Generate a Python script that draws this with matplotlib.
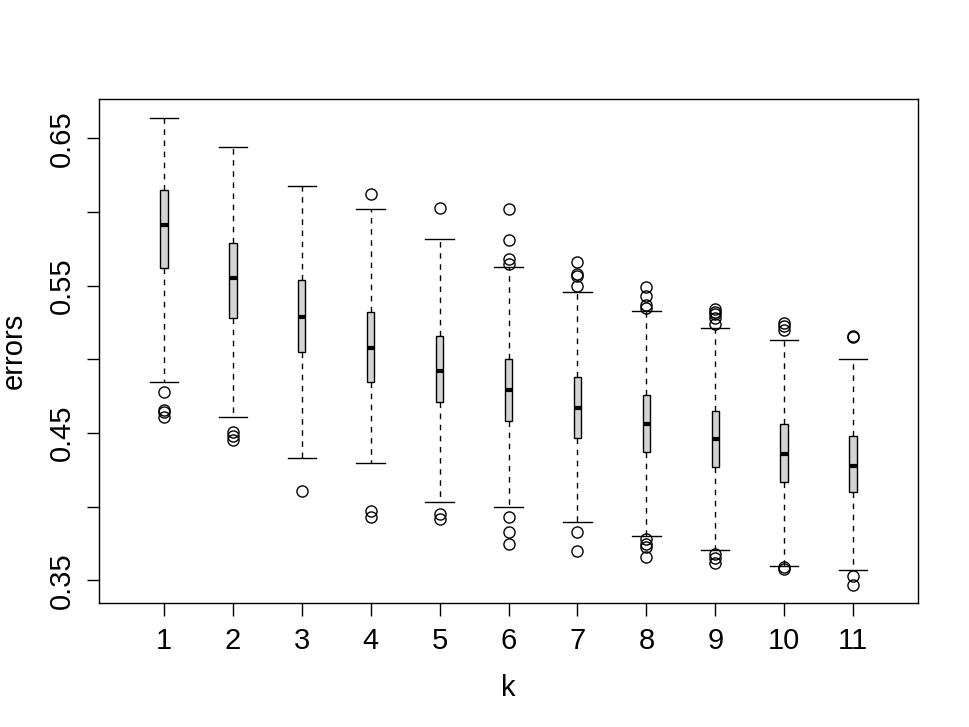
import numpy as np
import matplotlib
matplotlib.use("Agg")
import matplotlib.pyplot as plt

plt.rcParams['font.family'] = ['Liberation Sans', 'DejaVu Sans']

# values
k = [1, 2, 3, 4, 5, 6, 7, 8, 9, 10, 11]
whis_hi = [0.664, 0.644, 0.618, 0.602, 0.582, 0.563, 0.546, 0.533, 0.521, 0.513, 0.500]
q3 = [0.615, 0.579, 0.554, 0.532, 0.516, 0.500, 0.488, 0.476, 0.465, 0.456, 0.448]
medians = [0.591, 0.555, 0.529, 0.508, 0.492, 0.479, 0.467, 0.456, 0.446, 0.436, 0.428]
q1 = [0.562, 0.528, 0.505, 0.485, 0.471, 0.458, 0.447, 0.437, 0.427, 0.417, 0.410]
whis_lo = [0.485, 0.461, 0.433, 0.430, 0.403, 0.400, 0.390, 0.380, 0.371, 0.360, 0.357]
outliers = [
    [0.478, 0.466, 0.464, 0.461],
    [0.451, 0.448, 0.445],
    [0.411],
    [0.612, 0.397, 0.393],
    [0.6025, 0.395, 0.392],
    [0.602, 0.581, 0.568, 0.565, 0.393, 0.383, 0.375],
    [0.566, 0.558, 0.5565, 0.550, 0.383, 0.370],
    [0.549, 0.543, 0.537, 0.535, 0.378, 0.375, 0.373, 0.366],
    [0.534, 0.532, 0.531, 0.528, 0.524, 0.368, 0.365, 0.362],
    [0.525, 0.5225, 0.520, 0.359, 0.358],
    [0.516, 0.5155, 0.353, 0.347],
]

stats = []
for i in range(len(k)):
    stats.append({
        'med': medians[i], 'q1': q1[i], 'q3': q3[i],
        'whislo': whis_lo[i], 'whishi': whis_hi[i],
        'fliers': outliers[i],
    })

fig = plt.figure(figsize=(9.69, 7.27), dpi=100)
ax = fig.add_axes([99 / 969, 1 - 603 / 727, 819 / 969, 504 / 727])

ax.bxp(stats, positions=k, widths=0.11, patch_artist=True,
       boxprops=dict(facecolor='#d3d3d3', edgecolor='black', linewidth=1.0),
       medianprops=dict(color='black', linewidth=3, solid_capstyle='butt'),
       whiskerprops=dict(color='black', linewidth=1.0, linestyle=(0, (4, 4))),
       capprops=dict(color='black', linewidth=1.0),
       flierprops=dict(marker='o', markerfacecolor='none', markeredgecolor='black',
                       markersize=8, markeredgewidth=1.0),
       capwidths=0.41)

ax.set_xlim(0.06, 11.94)
ax.set_ylim(0.3347, 0.6767)

ax.set_xticks(k)
ax.set_xticklabels([str(v) for v in k])
yt = [0.35, 0.40, 0.45, 0.50, 0.55, 0.60, 0.65]
ax.set_yticks(yt)
ax.set_yticklabels(['0.35', '', '0.45', '', '0.55', '', '0.65'], rotation=90, va='center')

ax.tick_params(axis='both', labelsize=21, length=9, width=1.0, pad=8)
for s in ax.spines.values():
    s.set_linewidth(1.0)

ax.set_xlabel('k', fontsize=21, labelpad=14)
ax.set_ylabel('errors', fontsize=21, labelpad=14)

fig.savefig('out.png', dpi=100)
